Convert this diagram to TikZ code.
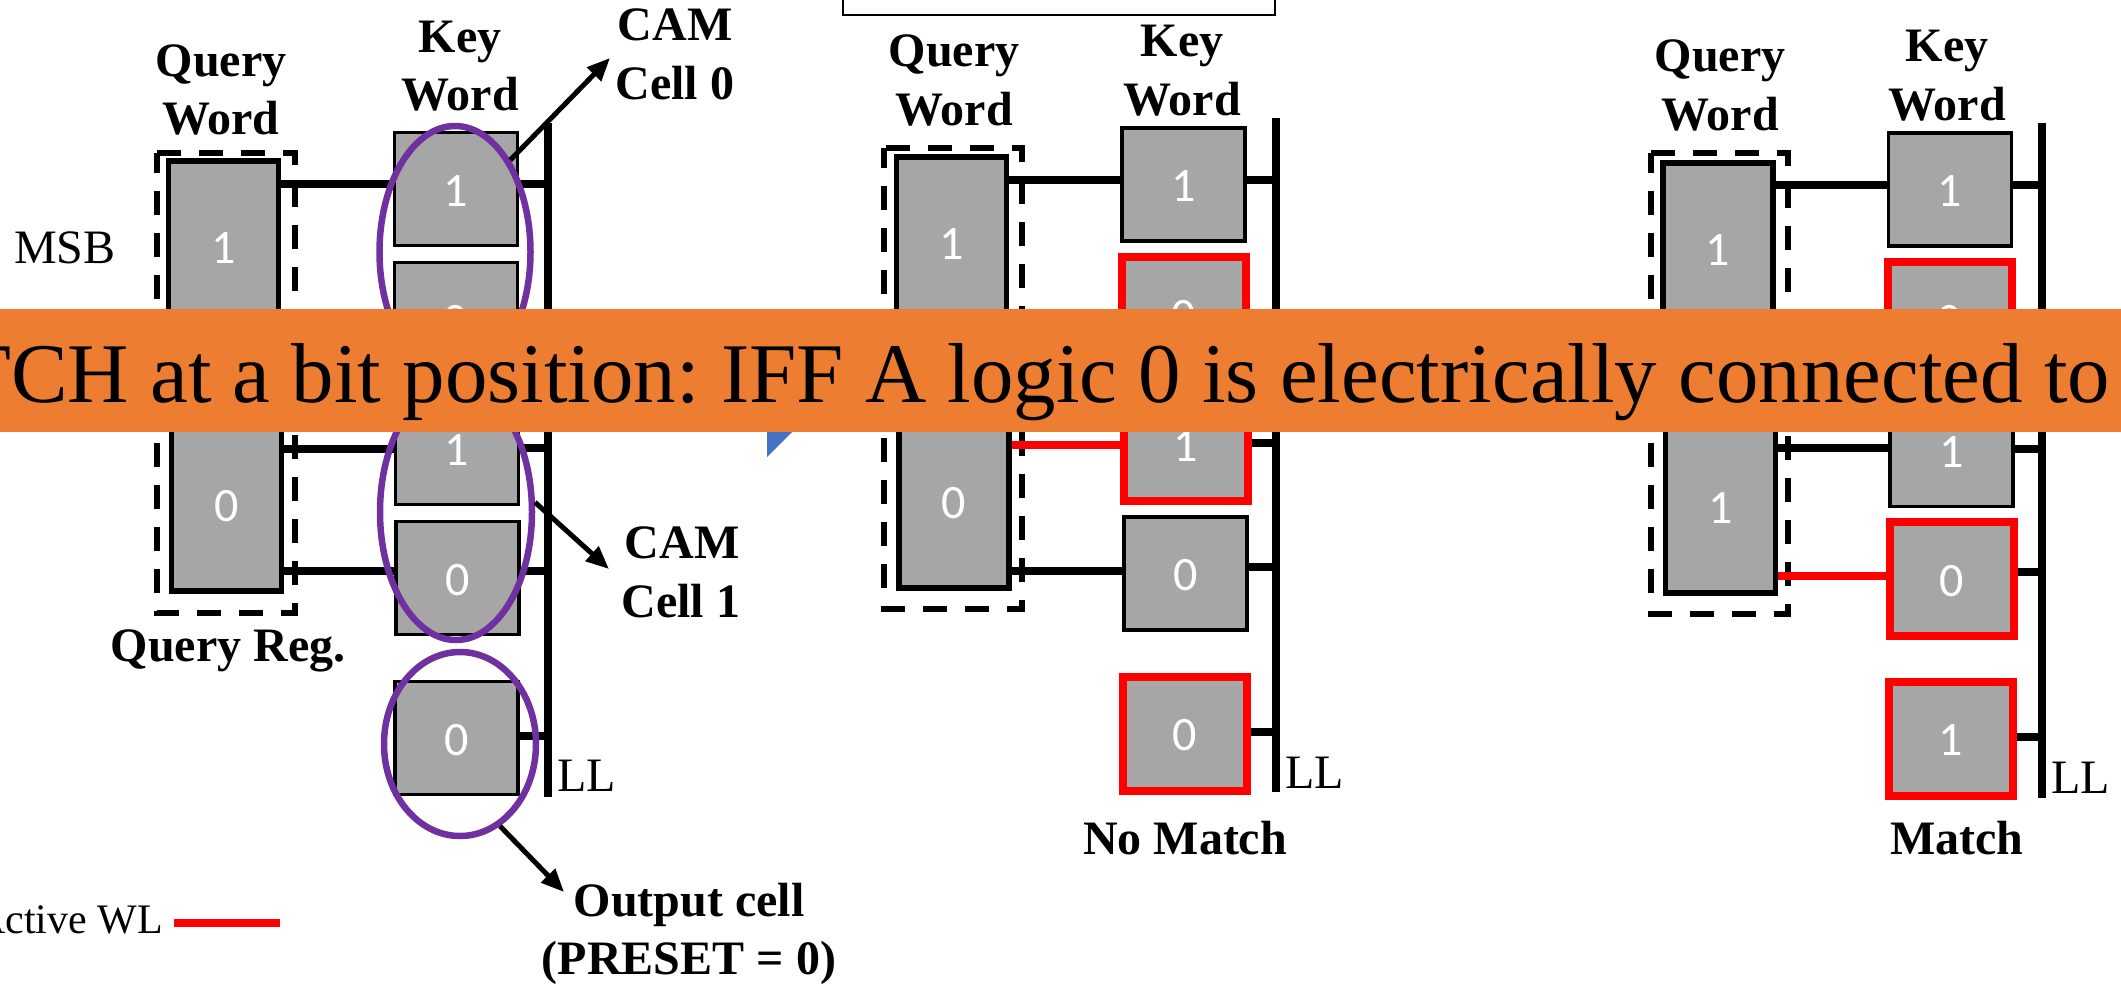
\documentclass[tikz,border=0pt]{standalone}
\usepackage{fontspec}
\setmainfont{Liberation Serif}
\newfontfamily\bitfont{Carlito}
\usetikzlibrary{arrows.meta,shapes.geometric}
\definecolor{cellgray}{HTML}{A6A6A6}
\definecolor{camviolet}{HTML}{7030A0}
\definecolor{bannerorange}{HTML}{ED7D31}
\definecolor{markerblue}{HTML}{4472C4}
\tikzset{
	lab/.style={anchor=base,inner sep=0pt,yshift=-1.5pt,font=\fontsize{48}{59}\selectfont},
	blab/.style={lab,font=\fontsize{48}{59}\selectfont\bfseries},
	cell/.style={draw=black,line width=3.5pt,fill=cellgray,minimum width=123pt,minimum height=113pt,
		inner sep=0pt,text=white,text height=34pt,text depth=0pt,font=\fontsize{48}{50}\bitfont},
	redcell/.style={cell,draw=red,line width=8pt,minimum width=124pt,minimum height=114pt},
	qcell/.style={cell,line width=5.5pt,text height=30pt,minimum width=110pt,minimum height=174pt},
	qcelllow/.style={qcell,minimum height=170pt},
	wire/.style={line width=8pt},
	redwire/.style={line width=8pt,color=red},
	lline/.style={line width=7.5pt},
	qreg/.style={line width=6pt,dash pattern=on 24pt off 18pt,dash phase=4pt},
	camring/.style={ellipse,draw=camviolet,line width=6.5pt,inner sep=0pt},
	pointer/.style={line width=5pt,-{Triangle[length=23pt,width=19pt]}},
}
\begin{document}
\begin{tikzpicture}[x=1pt,y=-1pt]
\useasboundingbox (0,0) rectangle (2121,983);

\node[draw=black,line width=2pt,minimum width=432pt,minimum height=30pt] (title) at (1059,0) {};
\fill[markerblue] (767,420) -- (804,420) -- (767,457) -- cycle;

% left circuit
\coordinate (LLa0) at (548,123);
\coordinate (LLb0) at (548,797);
\draw[lline] (LLa0)--(LLb0);
\draw[qreg] (157,153) rectangle (295,613);

\node[qcell] (q01) at (223.5,248) {1};
\node[qcelllow] (q02) at (226.5,506) {0};
\node[cell] (k01) at (456,189) {1};
\node[cell] (k02) at (456,319) {0};
\node[cell] (k03) at (457,448) {1};
\node[cell] (k04) at (457.5,578) {0};
\node[cell] (k05) at (456.5,738) {0};

\draw[wire] (q01.east |- 0,184)--(k01.west |- 0,184);
\draw[wire] (q01.east |- 0,319)--(k02.west |- 0,319);
\draw[wire] (q02.east |- 0,449)--(k03.west |- 0,449);
\draw[wire] (q02.east |- 0,571)--(k04.west |- 0,571);
\draw[wire] (k01.east |- 0,184)--(LLa0 |- 0,184);
\draw[wire] (k02.east |- 0,319)--(LLa0 |- 0,319);
\draw[wire] (k03.east |- 0,448)--(LLa0 |- 0,448);
\draw[wire] (k04.east |- 0,571)--(LLa0 |- 0,571);
\draw[wire] (k05.east |- 0,736)--(LLa0 |- 0,736);

\node[camring,minimum width=151pt,minimum height=252pt] (ring0) at (455,252) {};
\node[camring,minimum width=152pt,minimum height=256pt] (ring1) at (456,512) {};
\node[camring,minimum width=152pt,minimum height=184pt] (ring2) at (460,744) {};

\coordinate (tip0) at (610,58);
\coordinate (tip1) at (609,569);
\coordinate (tip2) at (564,892);
\draw[pointer] (ring0.59)--(tip0);
\draw[pointer] (ring1.7)--(tip1);
\draw[pointer] (ring2.-64)--(tip2);

% no match
\coordinate (LLa1) at (1276,118);
\coordinate (LLb1) at (1276,792);
\draw[lline] (LLa1)--(LLb1);
\draw[qreg] (884,148) rectangle (1022,609);

\node[qcell] (q11) at (951.5,244) {1};
\node[qcelllow] (q12) at (954,503) {0};
\node[cell] (k11) at (1183.5,184.5) {1};
\node[redcell] (k12) at (1184,314) {0};
\node[redcell] (k13) at (1185.5,444) {1};
\node[cell] (k14) at (1185.5,573.5) {0};
\node[redcell] (k15) at (1184.5,733.5) {0};

\draw[wire] (q11.east |- 0,180)--(k11.west |- 0,180);
\draw[wire] (q11.east |- 0,315)--(k12.west |- 0,315);
\draw[redwire] (q12.east |- 0,445)--(k13.west |- 0,445);
\draw[wire] (q12.east |- 0,571)--(k14.west |- 0,571);
\draw[wire] (k11.east |- 0,180)--(LLa1 |- 0,180);
\draw[wire] (k12.east |- 0,315)--(LLa1 |- 0,315);
\draw[wire] (k13.east |- 0,443)--(LLa1 |- 0,443);
\draw[wire] (k14.east |- 0,567)--(LLa1 |- 0,567);
\draw[wire] (k15.east |- 0,732)--(LLa1 |- 0,732);

% match
\coordinate (LLa2) at (2042,123);
\coordinate (LLb2) at (2042,798);
\draw[lline] (LLa2)--(LLb2);
\draw[qreg] (1651,153) rectangle (1788,614);

\node[qcell] (q21) at (1718,250) {1};
\node[qcelllow] (q22) at (1720.5,508) {1};
\node[cell] (k21) at (1950,189.5) {1};
\node[redcell] (k22) at (1950,319) {0};
\node[cell] (k23) at (1951.5,450) {1};
\node[redcell] (k24) at (1951.5,579) {0};
\node[redcell] (k25) at (1950.5,738.5) {1};

\draw[wire] (q21.east |- 0,185)--(k21.west |- 0,185);
\draw[wire] (q21.east |- 0,319)--(k22.west |- 0,319);
\draw[wire] (q22.east |- 0,448)--(k23.west |- 0,448);
\draw[redwire] (q22.east |- 0,576)--(k24.west |- 0,576);
\draw[wire] (k21.east |- 0,185)--(LLa2 |- 0,185);
\draw[wire] (k22.east |- 0,319)--(LLa2 |- 0,319);
\draw[wire] (k23.east |- 0,449)--(LLa2 |- 0,449);
\draw[wire] (k24.east |- 0,572)--(LLa2 |- 0,572);
\draw[wire] (k25.east |- 0,737)--(LLa2 |- 0,737);

% labels
\node[blab] (query0) at (221,75) {Query};
\node[blab] (word0) at (221,133) {Word};
\node[blab] (key0) at (460,51) {Key};
\node[blab] (kword0) at (460,109) {Word};
\node[blab] (cam0) at (675,39) {CAM};
\node[blab] (cellname0) at (675,98) {Cell 0};
\node[lab,anchor=base west] (msb) at (14,262) {MSB};
\node[blab] (qreg) at (228,660) {Query Reg.};
\node[blab] (cam1) at (682,557) {CAM};
\node[blab] (cellname1) at (681,616) {Cell 1};
\node[lab,anchor=base west] (ll0) at (557,790) {LL};
\node[blab] (outcell) at (689,915) {Output cell};
\node[blab] (preset) at (689,973) {(PRESET = 0)};

\node[lab,anchor=base east,font=\fontsize{42}{50}\selectfont] (active) at (163,932) {Active WL};
\coordinate (wla) at (174,923);
\coordinate (wlb) at (280,923);
\draw[redwire] (wla)--(wlb);

\node[blab] (query1) at (954,65) {Query};
\node[blab] (word1) at (954,124) {Word};
\node[blab] (key1) at (1182,55) {Key};
\node[blab] (kword1) at (1182,114) {Word};
\node[lab,anchor=base west] (ll1) at (1285,787) {LL};
\node[blab] (nomatch) at (1185,853) {No Match};

\node[blab] (query2) at (1720,70) {Query};
\node[blab] (word2) at (1720,129) {Word};
\node[blab] (key2) at (1947,60) {Key};
\node[blab] (kword2) at (1947,119) {Word};
\node[lab,anchor=base west] (ll2) at (2051,792) {LL};
\node[blab] (match) at (1957,853) {Match};

% banner over everything
\node[fill=bannerorange,minimum width=2121pt,minimum height=123pt,inner sep=0pt] (banner) at (1060.5,370.5) {};
\node[anchor=base east,inner sep=0pt,font=\fontsize{84.9}{100}\selectfont\frenchspacing] (bannertext) at (2110,402) {TCH at a bit position: IFF A logic 0 is electrically connected to};

\end{tikzpicture}
\end{document}
